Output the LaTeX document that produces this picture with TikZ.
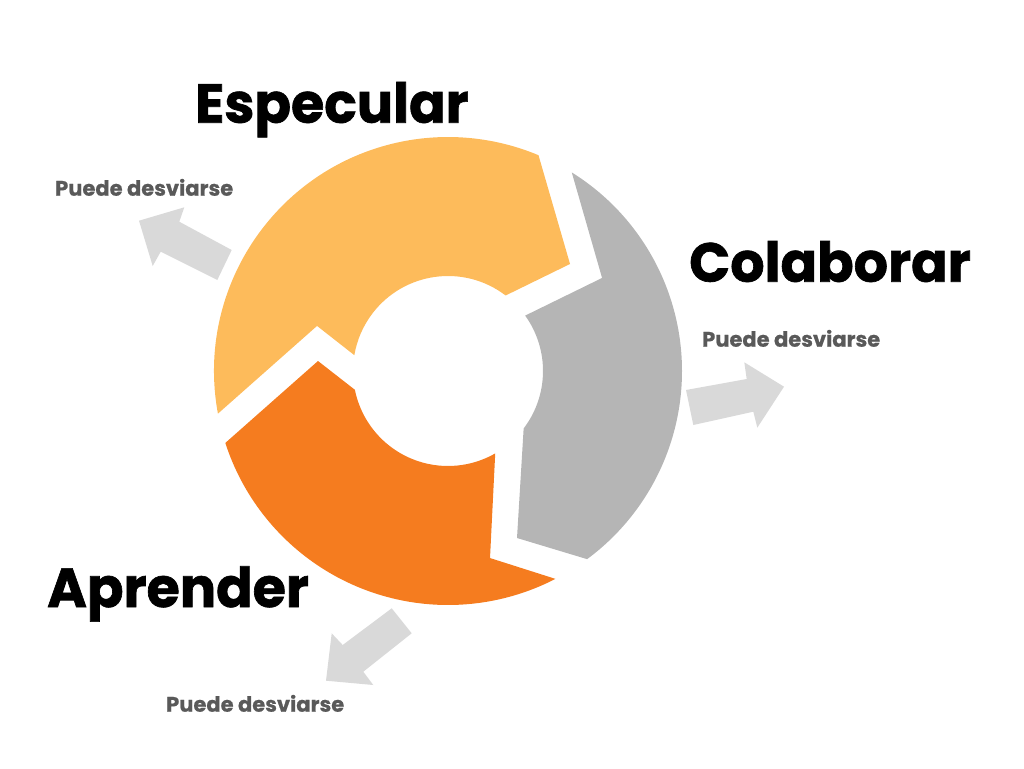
\documentclass[tikz,border=0pt]{standalone}
\usepackage{fontspec}
\setmainfont{Poppins}
\newfontfamily\headfont{Poppins}[FakeStretch=0.98, FakeBold=1.2]
\newfontfamily\notefont{Poppins}[FakeBold=0.6]
\definecolor{spec}{HTML}{FDBB5B}
\definecolor{colab}{HTML}{B5B5B5}
\definecolor{learn}{HTML}{F57C1F}
\definecolor{drift}{HTML}{D9D9D9}
\definecolor{note}{HTML}{595959}
\tikzset{
  title/.style={anchor=base west, inner sep=0pt, font=\headfont\bfseries\fontsize{55}{55}\selectfont, text=black},
  drifttext/.style={anchor=base west, inner sep=0pt, font=\notefont\bfseries\fontsize{21}{21}\selectfont, text=note},
  driftarrow/.style={fill=drift},
}
\begin{document}
\begin{tikzpicture}[x=1pt,y=-1pt]
\useasboundingbox (0,0) rectangle (1024,768);

% three ring segments, each a chevron-ended arc band
\begin{scope}[shift={(448,371)}, y=1pt]
  % Especular: from the left notch clockwise to the head at upper right
  \fill[spec] (190.5:234) arc[start angle=190.5, end angle=67.25, radius=234]
    -- (41.25:162.3) -- (52.65:95) arc[start angle=52.65, end angle=170.4, radius=95]
    -- (161:138.5) -- cycle;
  % Colaborar: from the upper right notch clockwise to the head at lower right
  \fill[colab] (58.07:234) arc[start angle=58.07, end angle=-53.52, radius=234]
    -- (-67.55:180.7) -- (-37.23:95) arc[start angle=-37.23, end angle=35.68, radius=95]
    -- (31.13:180) -- cycle;
  % Aprender: from the lower right notch clockwise to the head at the left
  \fill[learn] (197.9:234) -- (175.6:130.4) -- (191.4:95)
    arc[start angle=191.4, end angle=299.8, radius=95]
    -- (282.66:191.7) -- (297.33:234)
    arc[start angle=297.33, end angle=197.9, radius=234] -- cycle;
\end{scope}

% deviation arrows
\fill[driftarrow] (231.7,250) -- (179.3,221.7) -- (184.3,207.3) -- (139,220.7)
  -- (152.7,266) -- (160.7,251.7) -- (217.3,280) -- cycle;
\fill[driftarrow] (686,390) -- (746.7,379) -- (744.3,362.3) -- (784,386.7)
  -- (757.3,427.7) -- (753.3,411.7) -- (693.3,425) -- cycle;
\fill[driftarrow] (391.7,608.3) -- (342.7,645) -- (331.7,633.3) -- (326,680.7)
  -- (373.3,685) -- (363.3,671.7) -- (411.7,633.3) -- cycle;

% labels
\node[title] (tspec) at (195,122.7) {Especular};
\node[title] (tcolab) at (689,281.7) {Colaborar};
\node[title] (tlearn) at (47,607) {Aprender};
\node[drifttext] (dspec) at (55,195.7) {Puede desviarse};
\node[drifttext] (dcolab) at (702,346.7) {Puede desviarse};
\node[drifttext] (dlearn) at (166,711.7) {Puede desviarse};
\end{tikzpicture}
\end{document}
